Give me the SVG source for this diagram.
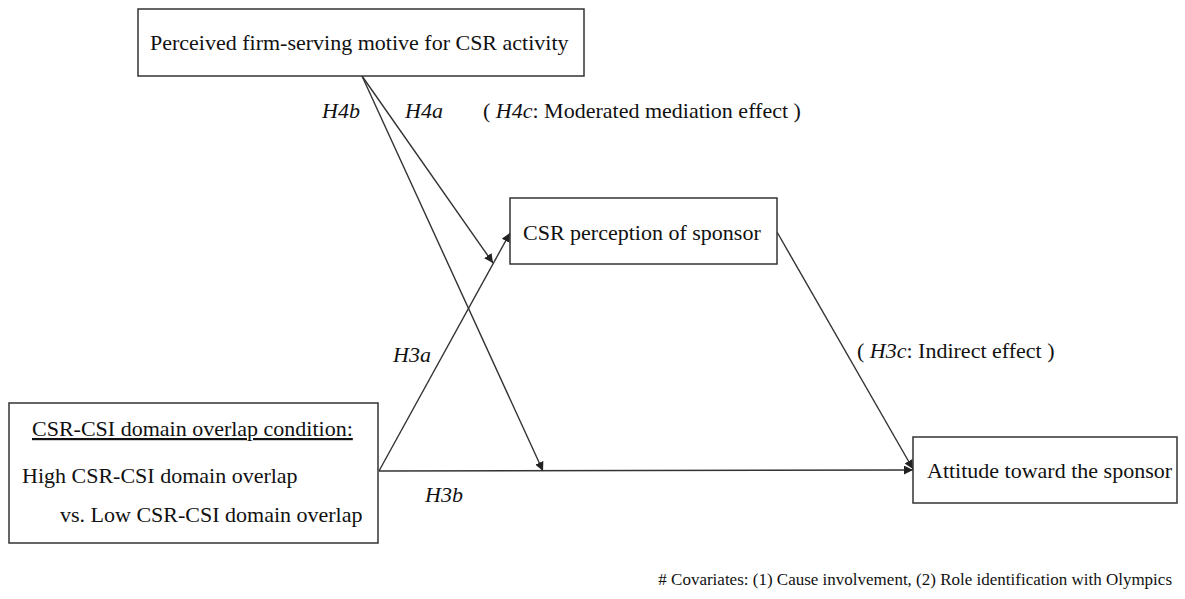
<svg xmlns="http://www.w3.org/2000/svg" width="1185" height="599" viewBox="0 0 1185 599">
  <style>
    .box { fill: #ffffff; stroke: #333333; stroke-width: 1.5; }
    .t { font-family: "Liberation Serif", "Times New Roman", serif; font-size: 22px; fill: #111111; }
    .i { font-style: italic; }
    .note { font-size: 17px; }
    .edge { fill: none; stroke: #333333; stroke-width: 1.4; }
  </style>
  <defs>
    <marker id="arrow" viewBox="0 0 10 10" refX="10" refY="5" markerWidth="9" markerHeight="9" markerUnits="userSpaceOnUse" orient="auto">
      <path d="M0,0 L10,5 L0,10 z" fill="#222222"/>
    </marker>
  </defs>
  <rect width="1185" height="599" fill="#ffffff"/>

  <!-- connectors -->
  <g id="connectors">
    <!-- H4a: motive moderates condition -> CSR perception path -->
    <line class="edge" x1="362" y1="76" x2="493" y2="263" marker-end="url(#arrow)"/>
    <!-- H4b: motive moderates condition -> attitude path -->
    <line class="edge" x1="362" y1="76" x2="543" y2="471" marker-end="url(#arrow)"/>
    <!-- H3a -->
    <line class="edge" x1="379" y1="471" x2="510" y2="233" marker-end="url(#arrow)"/>
    <!-- H3b -->
    <line class="edge" x1="379" y1="471" x2="913" y2="470" marker-end="url(#arrow)"/>
    <!-- H3c: CSR perception -> attitude -->
    <line class="edge" x1="777" y1="232" x2="913" y2="469" marker-end="url(#arrow)"/>
  </g>

  <g id="node-motive">
    <rect class="box" x="138" y="9" width="446" height="67"/>
    <text class="t" x="150" y="50">Perceived firm-serving motive for CSR activity</text>
  </g>

  <g id="node-csr-perception">
    <rect class="box" x="510" y="198" width="267" height="66"/>
    <text class="t" x="523" y="240">CSR perception of sponsor</text>
  </g>

  <g id="node-condition">
    <rect class="box" x="9" y="403" width="369" height="140"/>
    <text class="t" x="32" y="436" text-decoration="underline">CSR-CSI domain overlap condition:</text>
    <text class="t" x="22" y="483">High CSR-CSI domain overlap</text>
    <text class="t" x="60" y="522">vs. Low CSR-CSI domain overlap</text>
  </g>

  <g id="node-attitude">
    <rect class="box" x="913" y="437" width="264" height="66"/>
    <text class="t" x="927" y="478">Attitude toward the sponsor</text>
  </g>

  <g id="labels">
    <text class="t i" x="322" y="118">H4b</text>
    <text class="t i" x="405" y="118">H4a</text>
    <text class="t" x="483" y="118">( <tspan class="i">H4c</tspan>: Moderated mediation effect )</text>
    <text class="t i" x="393" y="362">H3a</text>
    <text class="t i" x="425" y="502">H3b</text>
    <text class="t" x="857" y="358">( <tspan class="i">H3c</tspan>: Indirect effect )</text>
    <text class="t note" x="1172" y="585" text-anchor="end"># Covariates: (1) Cause involvement, (2) Role identification with Olympics</text>
  </g>
</svg>
